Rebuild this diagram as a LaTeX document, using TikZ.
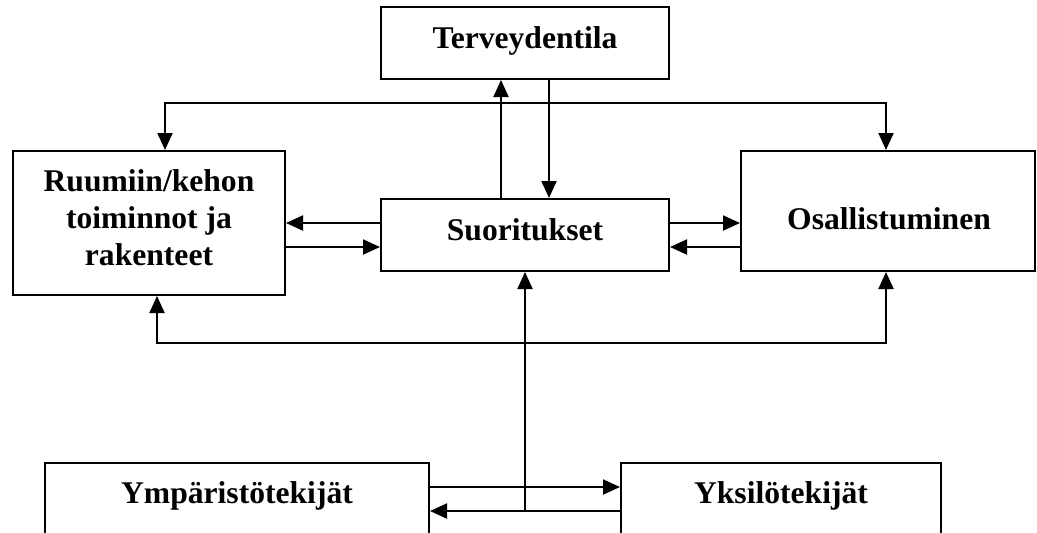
\documentclass[tikz,border=0pt]{standalone}
\usepackage{fontspec}
\setmainfont{Liberation Serif}
\usetikzlibrary{arrows.meta}
\begin{document}
\begin{tikzpicture}[x=0.5pt,y=-0.5pt,line width=1pt,
  box/.style={draw,line width=1pt,inner sep=0pt},
  lbl/.style={font=\fontsize{15.8}{18.5}\selectfont\bfseries,anchor=base,inner sep=0pt,align=center},
  arr/.style={-{Triangle[length=8.5pt,width=7.5pt]}}]
\clip (0,0) rectangle (1037,532);
\useasboundingbox (0,0) rectangle (1037,532);

% boxes
\node[box,minimum width=144pt,minimum height=36pt] (terv) at (525,43) {};
\node[box,minimum width=136pt,minimum height=72pt] (ruum) at (149,223) {};
\node[box,minimum width=144pt,minimum height=36pt] (suor) at (525,235) {};
\node[box,minimum width=147pt,minimum height=60pt] (osal) at (888,211) {};
\node[box,minimum width=192pt,minimum height=60pt] (ymp) at (237,523) {};
\node[box,minimum width=160pt,minimum height=60pt] (yks) at (781,523) {};

% labels (base anchor of the three-line label is its last line)
\node[lbl] (tervt) at (525,48) {Terveydentila};
\node[lbl] (ruumt) at (149,265) {Ruumiin/kehon\\toiminnot ja\\rakenteet};
\node[lbl] (suort) at (525,240) {Suoritukset};
\node[lbl] (osalt) at (889,229) {Osallistuminen};
\node[lbl] (ympt) at (237,503) {Ympäristötekijät};
\node[lbl] (ykst) at (781,503) {Yksilötekijät};

% Suoritukset <-> Terveydentila
\draw[arr] ([xshift=-12pt]suor.north) -- ([xshift=-12pt]terv.south);
\draw[arr] ([xshift=12pt]terv.south) -- ([xshift=12pt]suor.north);

% upper distribution line
\coordinate (tb) at (549,103);
\draw[arr] (tb) -| ([xshift=8pt]ruum.north);
\draw[arr] (tb) -| ([xshift=-1pt]osal.north);

% side arrows around Suoritukset
\coordinate (sw1) at ([yshift=6pt]suor.west);
\coordinate (sw2) at ([yshift=-6pt]suor.west);
\coordinate (se1) at ([yshift=6pt]suor.east);
\coordinate (se2) at ([yshift=-6pt]suor.east);
\draw[arr] (sw1) -- (sw1 -| ruum.east);
\draw[arr] (sw2 -| ruum.east) -- (sw2);
\draw[arr] (se1) -- (se1 -| osal.west);
\draw[arr] (se2 -| osal.west) -- (se2);

% bottom factors
\coordinate (b1) at (525,487);
\coordinate (b2) at (525,511);
\draw[arr] (b1 -| ymp.east) -- (b1 -| yks.west);
\draw[arr] (b2 -| yks.west) -- (b2 -| ymp.east);
\draw[arr] (b2) -- (suor.south);

% lower distribution line
\coordinate (hb) at (525,343);
\draw[arr] (hb) -| ([xshift=4pt]ruum.south);
\draw[arr] (hb) -| ([xshift=-1pt]osal.south);
\end{tikzpicture}
\end{document}
